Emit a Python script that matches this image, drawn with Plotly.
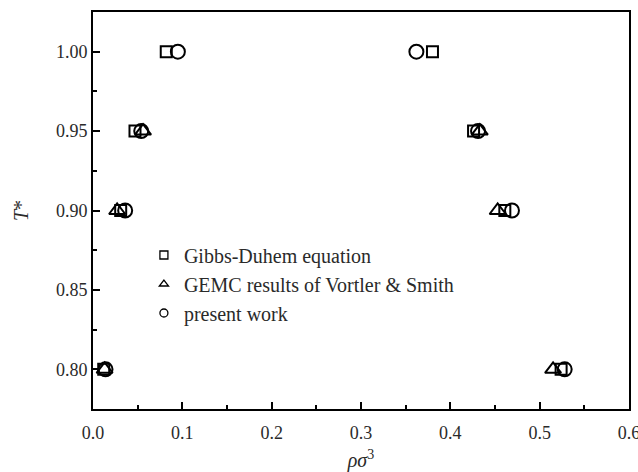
import plotly.graph_objects as go

# Gibbs-Duhem equation
gd_rho = [0.082, 0.380, 0.047, 0.426, 0.031, 0.461, 0.012, 0.524]
gd_T = [1.00, 1.00, 0.95, 0.95, 0.90, 0.90, 0.80, 0.80]
# GEMC results of Vortler & Smith
gemc_rho = [0.056, 0.433, 0.027, 0.453, 0.013, 0.515]
gemc_T = [0.95, 0.95, 0.90, 0.90, 0.80, 0.80]
# present work
pw_rho = [0.095, 0.362, 0.054, 0.431, 0.036, 0.469, 0.014, 0.528]
pw_T = [1.00, 1.00, 0.95, 0.95, 0.90, 0.90, 0.80, 0.80]

names = ["Gibbs-Duhem equation", "GEMC results of Vortler &amp; Smith", "present work"]
symbols = ["square-open", "triangle-up-open", "circle-open"]
sizes = [11, 14, 14]
xs = [gd_rho, gemc_rho, pw_rho]
ys = [gd_T, gemc_T, pw_T]

fig = go.Figure()
for i in range(3):
    fig.add_trace(go.Scatter(
        x=xs[i], y=ys[i], mode="markers", showlegend=False,
        marker=dict(symbol=symbols[i], size=sizes[i], color="black",
                    line=dict(color="black", width=2))))
for i in range(3):
    fig.add_trace(go.Scatter(
        x=[None], y=[None], mode="markers", name=names[i],
        legendgroup=str(i),
        marker=dict(symbol=symbols[i], size=8, color="black",
                    line=dict(color="black", width=1.3))))

font = "Liberation Serif, Times New Roman, serif"
fig.update_layout(
    width=638, height=472,
    margin=dict(l=93, r=9, t=12, b=63),
    plot_bgcolor="white", paper_bgcolor="white",
    font=dict(family=font, size=18, color="#2a2a2a"),
    legend=dict(x=0.095, y=0.437, xanchor="left", yanchor="top",
                bgcolor="rgba(0,0,0,0)", font=dict(size=20, color="#2a2a2a"),
                traceorder="grouped", tracegroupgap=0),
    xaxis=dict(range=[0, 0.6], dtick=0.1, tickformat=".1f",
               showline=True, linecolor="black", linewidth=2, mirror=True,
               ticks="inside", ticklen=7, tickwidth=2, tickcolor="black",
               ticklabelstandoff=6, ticklabeloverflow="allow", automargin=False,
               minor=dict(ticks="inside", ticklen=4, tickwidth=2, dtick=0.05, tickcolor="black"),
               showgrid=False, zeroline=False,
               title=dict(text="<i>ρσ</i><sup>3</sup>", standoff=14, font=dict(size=20))),
    yaxis=dict(range=[0.775, 1.025], dtick=0.05, tickformat=".2f",
               showline=True, linecolor="black", linewidth=2, mirror=True,
               ticks="inside", ticklen=7, tickwidth=2, tickcolor="black",
               automargin=False,
               minor=dict(ticks="inside", ticklen=4, tickwidth=2, dtick=0.025, tickcolor="black"),
               showgrid=False, zeroline=False,
               title=dict(text="<i>T</i>*", standoff=22, font=dict(size=20))),
)
fig.write_html("out.html")
